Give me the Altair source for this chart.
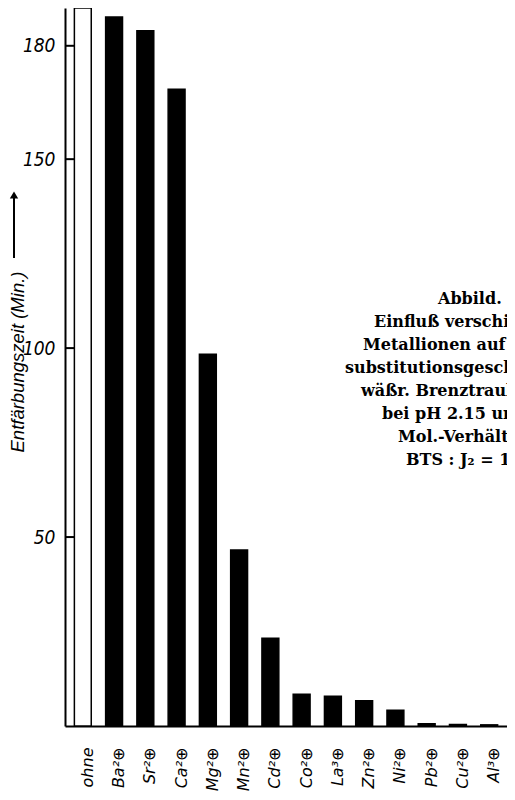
import altair as alt
import pandas as pd

ionen = ["ohne", "Ba²⊕", "Sr²⊕", "Ca²⊕", "Mg²⊕", "Mn²⊕", "Cd²⊕", "Co²⊕",
         "La³⊕", "Zn²⊕", "Ni²⊕", "Pb²⊕", "Cu²⊕", "Al³⊕"]
zeit = [190, 187.6, 184, 168.5, 98.4, 46.6, 23.2, 8.4, 7.9, 6.7, 4.2, 0.6, 0.4, 0.3]
y_ticks = [50, 100, 150, 180]
achsentitel = "Entfärbungszeit (Min.)"
legende = ["Abbild. 5.", "Einfluß verschiedener", "Metallionen auf die",
           "substitutionsgeschwindigkeit", "wäßr. Brenztraubensäure",
           "bei pH 2.15 und 20°", "Mol.-Verhältnis", "BTS : J₂ = 1 : 1"]

df = pd.DataFrame({"ion": ionen, "zeit": zeit})

W, H = 442, 718
yscale = alt.Scale(domain=[0, 190], nice=False, zero=True, clamp=True)
xscale = alt.Scale(paddingInner=0.46, paddingOuter=0.3)

sans_it = "DejaVu Sans"
narrow = "Liberation Sans Narrow, DejaVu Sans Condensed, Liberation Sans"

y_axis = alt.Axis(title=None, values=y_ticks, ticks=False, grid=False,
                  domain=True, domainColor="black", domainWidth=2,
                  labelFont=narrow, labelFontStyle="italic",
                  labelFontSize=19, labelColor="black", labelPadding=10)

bars = alt.Chart(df).mark_bar(stroke="black", strokeWidth=1.5).encode(
    x=alt.X("ion:N", sort=ionen, scale=xscale,
            axis=alt.Axis(title=None, labelAngle=270, labelAlign="right",
                          labelBaseline="alphabetic", labelOffset=10,
                          labelPadding=21, ticks=False, domain=True,
                          domainColor="black", domainWidth=2,
                          labelFont=sans_it, labelFontStyle="italic",
                          labelFontSize=16, labelColor="black")),
    y=alt.Y("zeit:Q", scale=yscale, axis=y_axis),
    fill=alt.condition(alt.datum.ion == "ohne", alt.value("white"), alt.value("black")),
)

ticks = alt.Chart(pd.DataFrame({"zeit": y_ticks})).mark_rule(
    color="black", strokeWidth=2).encode(
    y=alt.Y("zeit:Q", scale=yscale, axis=y_axis),
    x=alt.value(0), x2=alt.value(9))

title = alt.Chart(pd.DataFrame({"t": [achsentitel]})).mark_text(
    angle=270, align="center", baseline="alphabetic", font="Liberation Sans",
    fontStyle="italic", fontSize=18.5, color="black").encode(
    text="t:N", x=alt.value(-41), y=alt.value(354))

arrow_line = alt.Chart(pd.DataFrame({"a": [0]})).mark_rule(
    color="black", strokeWidth=2).encode(
    x=alt.value(-51), y=alt.value(186), y2=alt.value(250))
arrow_head = alt.Chart(pd.DataFrame({"a": [0]})).mark_point(
    shape="triangle-up", filled=True, color="black", size=70, opacity=1).encode(
    x=alt.value(-51), y=alt.value(187))

cap_x = [373, 309, 298, 280, 296, 317, 333, 341]
cap_layers = []
for i, line in enumerate(legende):
    cap_layers.append(
        alt.Chart(pd.DataFrame({"t": [line]})).mark_text(
            align="left", baseline="alphabetic", font="DejaVu Serif",
            fontWeight="bold", fontSize=16, color="black").encode(
            text="t:N", x=alt.value(cap_x[i]), y=alt.value(296 + 23 * i)))

chart = alt.layer(bars, ticks, title, arrow_line, arrow_head, *cap_layers).properties(
    width=W, height=H,
    autosize=alt.AutoSizeParams(type="none"),
    padding={"left": 57, "top": 0, "right": 0, "bottom": 66},
).configure_view(stroke=None).configure_axis(grid=False)

chart.save("out.html", embed_options={"renderer": "svg", "actions": False})
